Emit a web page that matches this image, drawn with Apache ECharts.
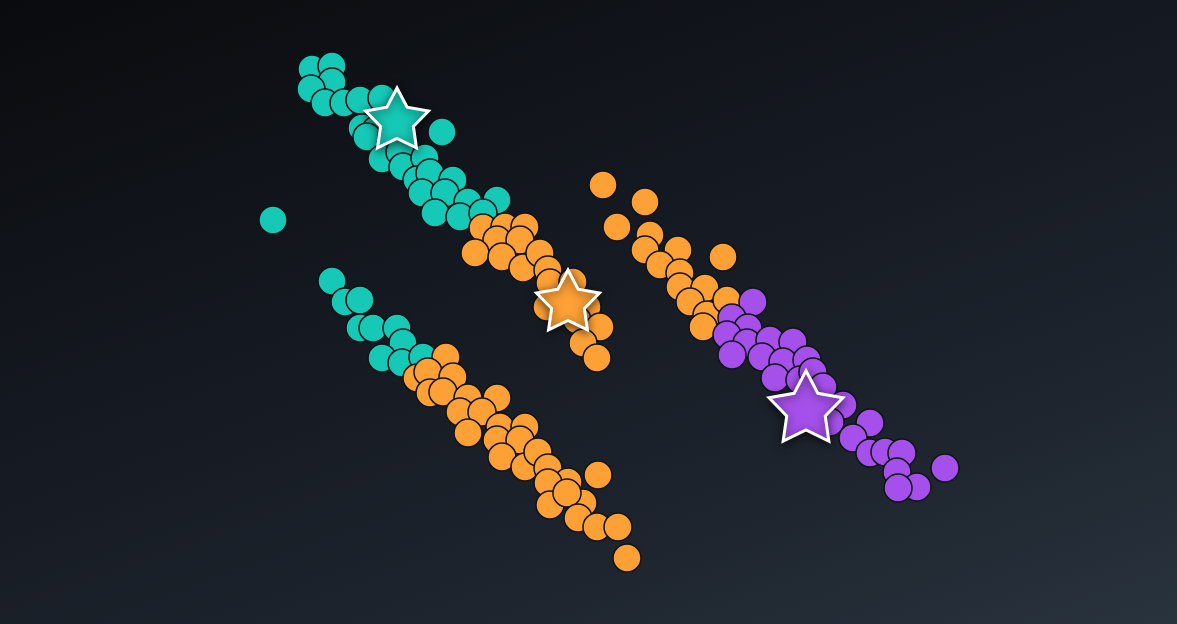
<!DOCTYPE html>
<html>
<head>
<meta charset="utf-8">
<script src="https://cdn.jsdelivr.net/npm/echarts@6/dist/echarts.min.js"></script>
<style>
  html, body { margin: 0; padding: 0; }
  #chart {
    width: 1177px; height: 624px;
    background: linear-gradient(160deg, #0a0b0e 0%, #141820 40%, #1e252e 75%, #29333e 100%);
  }
</style>
</head>
<body>
<div id="chart"></div>
<script>
// cluster members, [feature1, feature2]
let tealPoints = [
  [31.2, 55.5], [33.2, 55.8], [33.2, 54.2], [31.1, 53.5], [32.5, 52.1],
  [34.4, 52.1], [36.0, 52.4], [38.2, 52.6], [36.2, 49.6], [37.6, 49.4],
  [36.7, 48.7], [39.2, 48.9], [44.2, 49.2], [38.2, 46.5], [40.0, 47.2],
  [40.3, 45.7], [42.5, 46.6], [41.7, 44.4], [43.0, 45.1], [45.3, 44.4],
  [42.2, 43.1], [44.5, 43.1], [43.5, 41.1], [46.8, 42.2], [46.0, 40.7],
  [49.7, 42.4], [48.3, 41.1], [27.3, 40.4],
  [33.2, 34.3], [34.5, 32.2], [36.0, 32.4], [36.0, 29.6], [37.3, 29.6],
  [39.7, 29.6], [40.3, 28.1], [38.2, 26.6], [40.2, 26.1], [42.3, 26.7]
];

let orangePoints = [
  [48.3, 39.6], [50.5, 39.7], [52.5, 39.7], [49.7, 38.4], [52.0, 38.4],
  [47.5, 37.1], [50.2, 36.7], [52.3, 35.6], [54.0, 37.1], [54.8, 35.4],
  [55.0, 34.1], [54.7, 31.7], [57.3, 34.2], [58.7, 31.7], [57.7, 30.4],
  [60.0, 29.7], [58.3, 28.1], [59.7, 26.6],
  [44.6, 26.7], [41.7, 24.6], [42.8, 25.2], [45.3, 24.7], [43.0, 23.1],
  [44.3, 23.2], [46.8, 22.6], [49.7, 22.6], [46.0, 21.2], [48.2, 21.2],
  [46.8, 19.1], [50.0, 19.7], [52.5, 19.7], [49.7, 18.4], [52.0, 18.4],
  [50.2, 16.7], [52.5, 15.7], [53.8, 17.2], [54.8, 15.6], [56.8, 14.2],
  [54.8, 14.1], [59.8, 14.9], [55.0, 11.9], [58.3, 12.1], [56.7, 13.1],
  [57.8, 10.6], [59.7, 9.7], [61.8, 9.7], [62.7, 6.6],
  [60.3, 43.9], [64.5, 42.2], [61.7, 39.7], [65.0, 38.9], [64.5, 37.4],
  [67.8, 37.4], [66.0, 35.9], [68.0, 35.1], [72.3, 36.7], [68.0, 33.7],
  [70.5, 33.6], [69.0, 32.2], [70.7, 30.9], [72.7, 32.4], [70.3, 29.7]
];

let purplePoints = [
  [75.3, 32.2], [73.2, 30.6], [74.8, 29.6], [72.7, 28.9], [74.7, 28.1],
  [77.0, 28.4], [79.3, 28.2], [73.2, 26.9], [76.2, 26.7], [78.3, 26.2],
  [77.5, 24.6], [80.7, 26.4], [80.0, 24.4], [81.3, 25.2], [82.3, 23.7],
  [84.3, 21.9], [83.0, 20.2], [87.0, 20.1], [85.3, 18.6], [87.0, 17.1],
  [88.5, 17.2], [90.2, 17.1], [89.7, 15.2], [91.7, 13.7], [89.8, 13.6],
  [94.5, 15.6]
];

// cluster centres
let tealCenter   = [[39.7, 50.6]];
let orangeCenter = [[56.8, 32.4]];
let purpleCenter = [[80.6, 21.8]];

let colors = ['#16c9b6', '#fda136', '#a550ea'];

// five pointed star, no built-in for it (fatter than the classic one)
let starPath = 'path://M50,0 L65.28,28.97 L97.55,34.55 L74.73,58.03 L79.39,90.45 ' +
               'L50,76 L20.61,90.45 L25.27,58.03 L2.45,34.55 L34.72,28.97 Z';

function pointSeries(data, color){
  return {
    type: 'scatter',
    data: data,
    symbolSize: 28,
    itemStyle: { color: color, borderColor: '#111417', borderWidth: 1.5, opacity: 1 },
    emphasis: { disabled: true }
  };
}

function centerSeries(data, color, size){
  return {
    type: 'scatter',
    data: data,
    symbol: starPath,
    symbolKeepAspect: true,
    symbolSize: size,
    z: 5,
    itemStyle: {
      color: color, borderColor: '#ffffff', borderWidth: 3, opacity: 1,
      shadowBlur: 10, shadowColor: 'rgba(0,0,0,0.6)', shadowOffsetY: 2
    },
    emphasis: { disabled: true }
  };
}

let chart = echarts.init(document.getElementById('chart'));
chart.setOption({
  backgroundColor: 'transparent',
  animation: false,
  grid: { left: 0, right: 0, top: 0, bottom: 0 },
  xAxis: { type: 'value', min: 0, max: 117.7, show: false },
  yAxis: { type: 'value', min: 0, max: 62.4, show: false },
  series: [
    pointSeries(tealPoints, colors[0]),
    pointSeries(orangePoints, colors[1]),
    pointSeries(purplePoints, colors[2]),
    centerSeries(tealCenter, colors[0], 63),
    centerSeries(orangeCenter, colors[1], 63),
    centerSeries(purpleCenter, colors[2], 74)
  ]
});
</script>
</body>
</html>
